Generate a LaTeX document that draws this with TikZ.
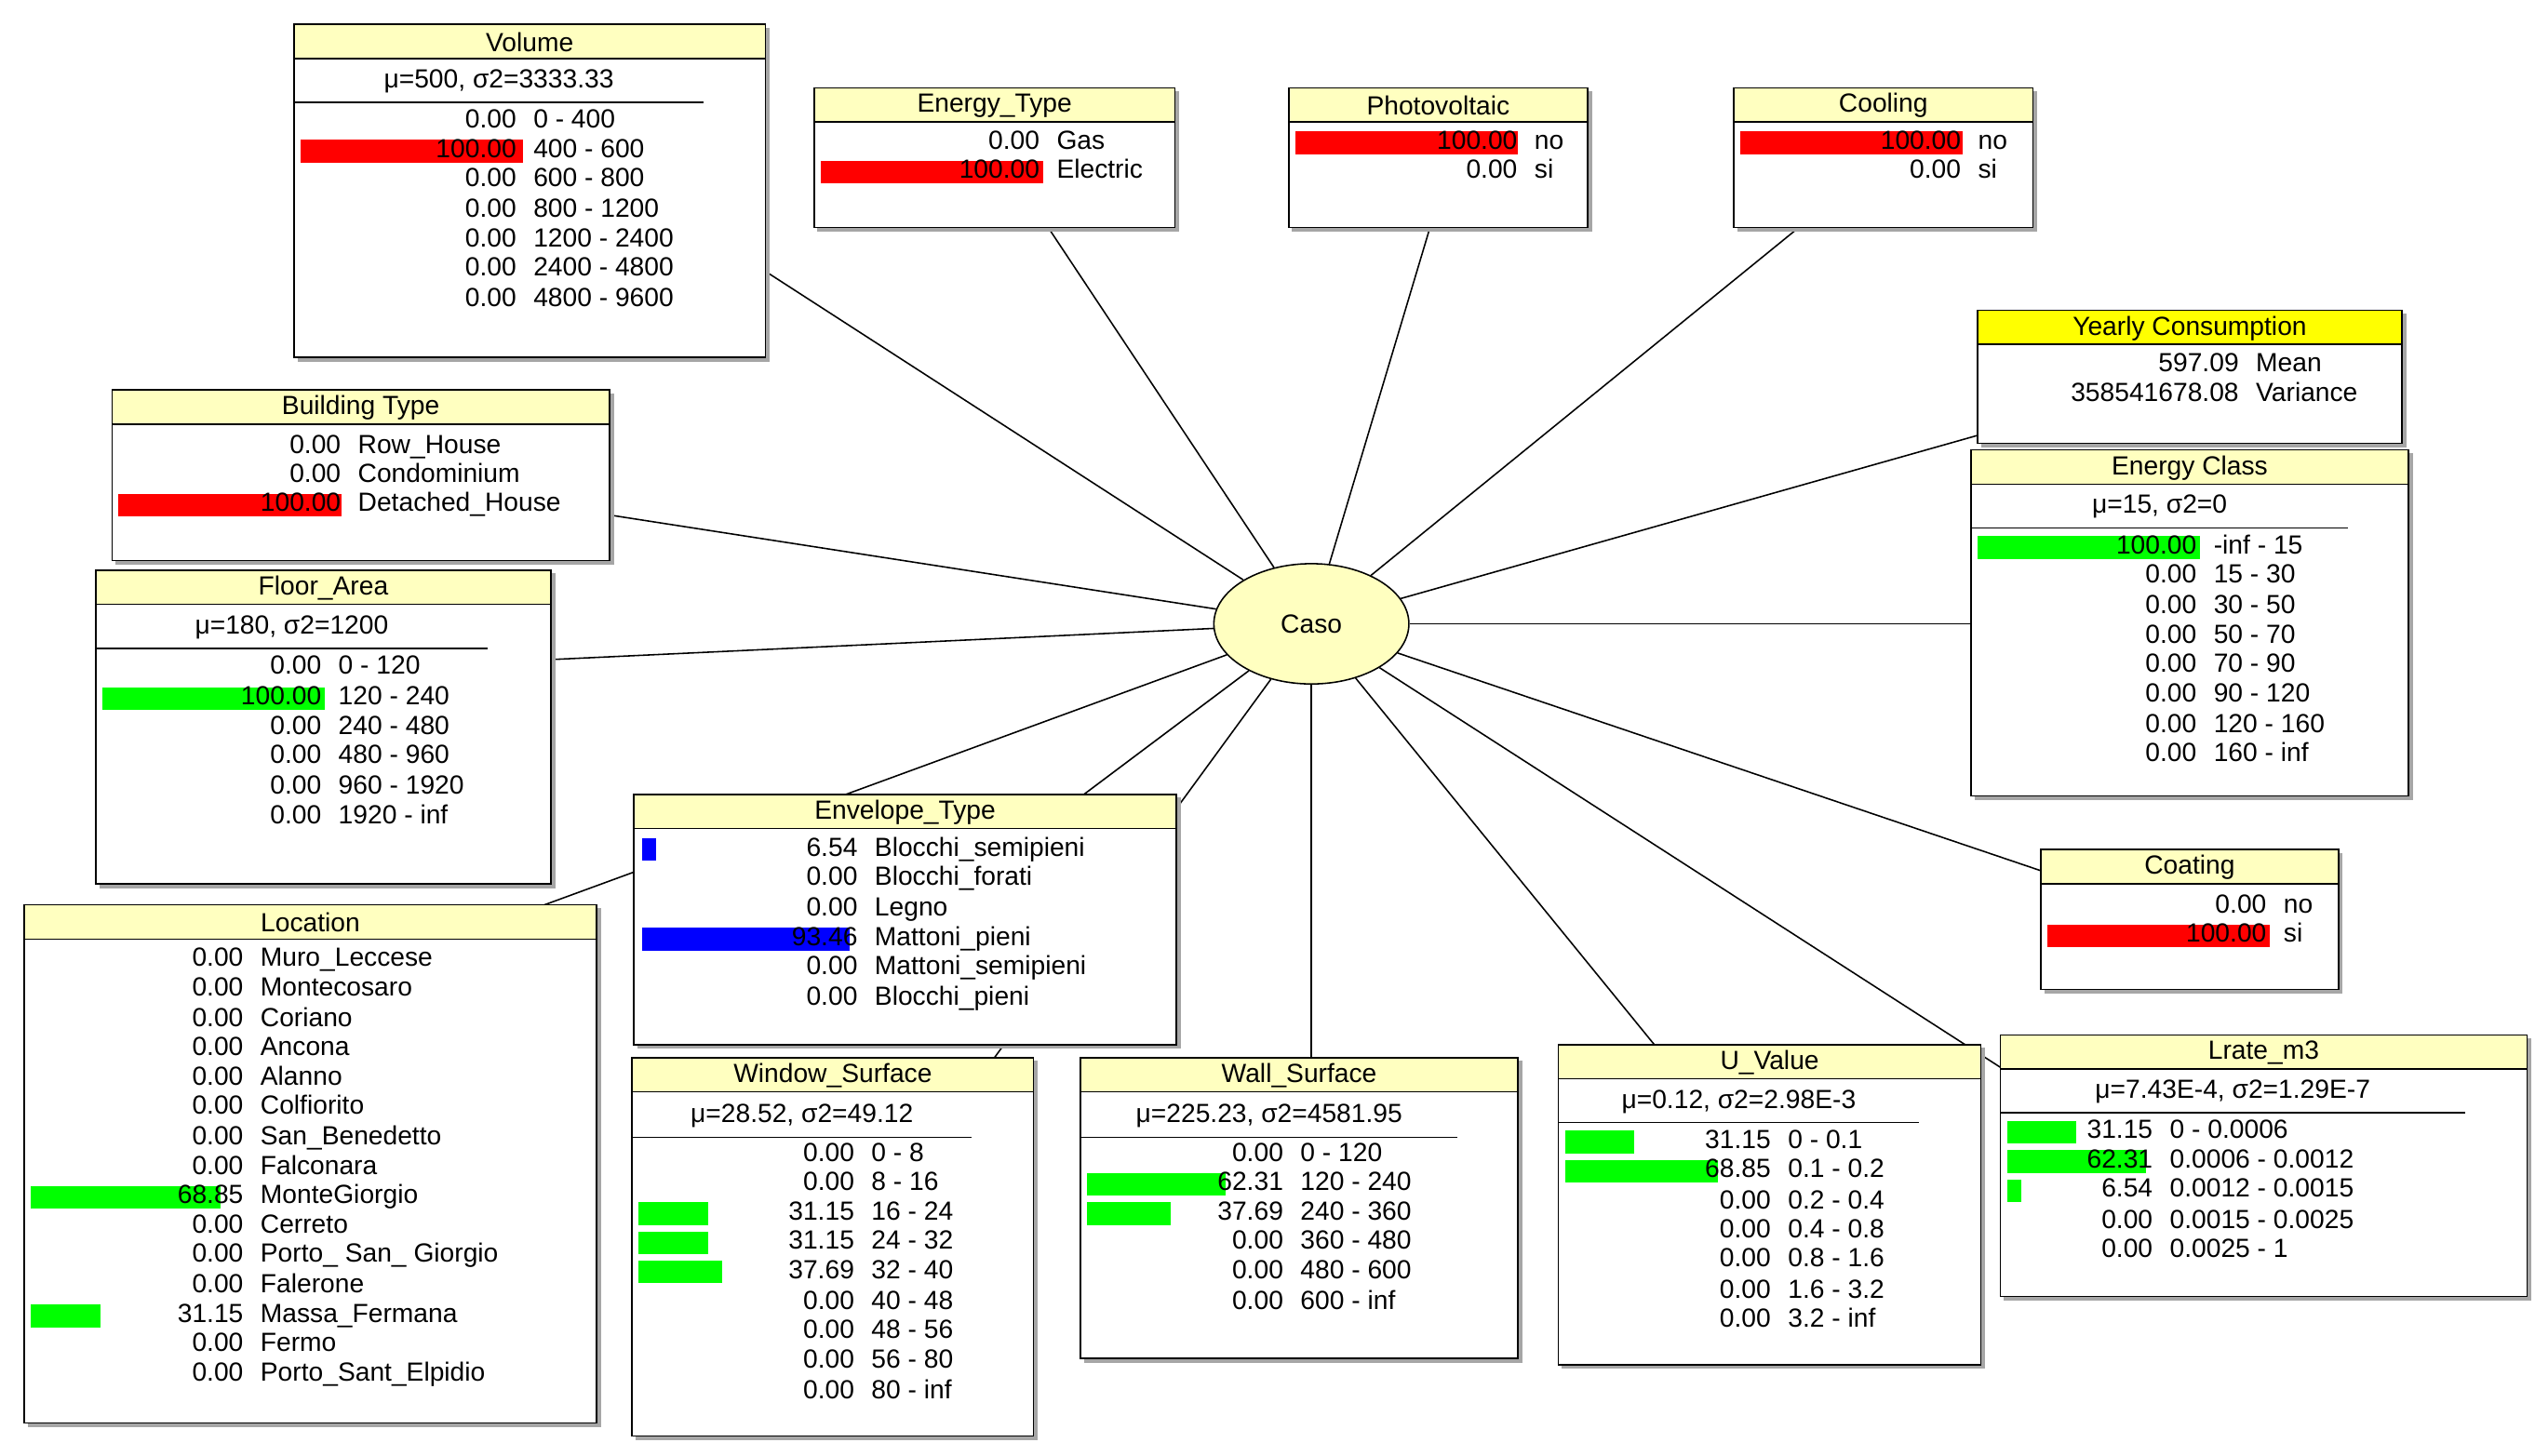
\documentclass[tikz,border=0pt]{standalone}
\usepackage{fontspec}
\setmainfont{Liberation Sans}
\usetikzlibrary{shapes.geometric}
\definecolor{hdr}{RGB}{255,255,192}
\definecolor{hdrY}{RGB}{255,255,0}
\definecolor{barR}{RGB}{255,0,0}
\definecolor{barG}{RGB}{0,255,0}
\definecolor{barB}{RGB}{0,0,255}
\tikzset{
  box/.style={draw=black, line width=0.6pt, fill=white},
  txt/.style={inner sep=0pt, font=\fontsize{10.8}{12}\selectfont},
  link/.style={draw=black, line width=0.6pt}
}
% panel: x1, y1, x2, y2, title, header colour
\newcommand\panel[6]{%
  \draw[gray!70, line width=1.6pt] ({#1+2},{#4+1.5}) -- ({#3+1.5},{#4+1.5}) -- ({#3+1.5},{#2+2});
  \draw[box] (#1,#2) rectangle (#3,#4);
  \draw[box, fill=#6] (#1,#2) rectangle (#3,{#2+21});
  \node[txt] at ({(#1+#3)/2},{#2+11}) {#5};}
% row: y, right edge of number, value, label
\newcommand\prow[4]{%
  \node[txt, anchor=mid east] at (#2,#1) {#3};
  \node[txt, anchor=mid west] at ({#2+10},#1) {#4};}
% bar: colour, left, y, value
\newcommand\pbar[4]{\fill[#1] (#2,{#3-7}) rectangle ({#2+#4*1.37},{#3+7});}
% statistics line: x1, x2, y, text
\newcommand\pstat[4]{%
  \node[txt] at ({(#1+#2)/2},#3) {#4};
  \draw[line width=0.6pt] (#1,{#3+13}) -- (#2,{#3+13});}
\begin{document}
\begin{tikzpicture}[x=0.0235cm, y=-0.0235cm]
  \useasboundingbox (0,0) rectangle (1560,896);

  % centre node and links
  \node[ellipse, draw, line width=0.6pt, fill=hdr, minimum width=2.82cm, minimum height=1.74cm, txt] (caso) at (807,384) {Caso};
  \coordinate (cvol) at (471,167);
  \coordinate (cene) at (645,140);
  \coordinate (cpho) at (880,140);
  \coordinate (ccoo) at (1107,140);
  \coordinate (cyea) at (1217,268);
  \coordinate (ccla) at (1213,384);
  \coordinate (ccoa) at (1256,536);
  \coordinate (clra) at (1231,657);
  \coordinate (cuva) at (1018,643);
  \coordinate (cwal) at (807,651);
  \coordinate (cwin) at (612,651);
  \coordinate (cenv) at (667,489);
  \coordinate (cloc) at (335,557);
  \coordinate (cbui) at (375,317);
  \coordinate (cflo) at (339,406);
  \foreach \c in {cvol,cene,cpho,ccoo,cyea,ccla,ccoa,clra,cuva,cwal,cwin,cenv,cloc,cbui,cflo}
    \draw[link] (caso) -- (\c);

  % Volume
  \panel{181}{15}{471}{220}{Volume}{hdr}
  \pstat{181}{433}{50}{μ=500, σ2=3333.33}
  \pbar{barR}{185}{93}{100}
  \prow{75}{318}{0.00}{0 - 400}
  \prow{93}{318}{100.00}{400 - 600}
  \prow{111}{318}{0.00}{600 - 800}
  \prow{130}{318}{0.00}{800 - 1200}
  \prow{148}{318}{0.00}{1200 - 2400}
  \prow{166}{318}{0.00}{2400 - 4800}
  \prow{185}{318}{0.00}{4800 - 9600}

  % Energy_Type
  \panel{501}{54}{723}{140}{Energy\_Type}{hdr}
  \pbar{barR}{505}{106}{100}
  \prow{88}{640}{0.00}{Gas}
  \prow{106}{640}{100.00}{Electric}

  % Photovoltaic
  \panel{793}{54}{977}{140}{Photovoltaic}{hdr}
  \pbar{barR}{797}{88}{100}
  \prow{88}{934}{100.00}{no}
  \prow{106}{934}{0.00}{si}

  % Cooling
  \panel{1067}{54}{1251}{140}{Cooling}{hdr}
  \pbar{barR}{1071}{88}{100}
  \prow{88}{1207}{100.00}{no}
  \prow{106}{1207}{0.00}{si}

  % Yearly Consumption
  \panel{1217}{191}{1478}{273}{Yearly Consumption}{hdrY}
  \prow{225}{1378}{597.09}{Mean}
  \prow{243}{1378}{358541678.08}{Variance}

  % Energy Class
  \panel{1213}{277}{1482}{490}{Energy Class}{hdr}
  \pstat{1213}{1445}{312}{μ=15, σ2=0}
  \pbar{barG}{1217}{337}{100}
  \prow{337}{1352}{100.00}{-inf - 15}
  \prow{355}{1352}{0.00}{15 - 30}
  \prow{374}{1352}{0.00}{30 - 50}
  \prow{392}{1352}{0.00}{50 - 70}
  \prow{410}{1352}{0.00}{70 - 90}
  \prow{428}{1352}{0.00}{90 - 120}
  \prow{447}{1352}{0.00}{120 - 160}
  \prow{465}{1352}{0.00}{160 - inf}

  % Building Type
  \panel{69}{240}{375}{345}{Building Type}{hdr}
  \pbar{barR}{73}{311}{100}
  \prow{275}{210}{0.00}{Row\_House}
  \prow{293}{210}{0.00}{Condominium}
  \prow{311}{210}{100.00}{Detached\_House}

  % Floor_Area
  \panel{59}{351}{339}{544}{Floor\_Area}{hdr}
  \pstat{59}{300}{386}{μ=180, σ2=1200}
  \pbar{barG}{63}{430}{100}
  \prow{411}{198}{0.00}{0 - 120}
  \prow{430}{198}{100.00}{120 - 240}
  \prow{448}{198}{0.00}{240 - 480}
  \prow{466}{198}{0.00}{480 - 960}
  \prow{485}{198}{0.00}{960 - 1920}
  \prow{503}{198}{0.00}{1920 - inf}

  % Coating
  \panel{1256}{523}{1439}{609}{Coating}{hdr}
  \pbar{barR}{1260}{576}{100}
  \prow{558}{1395}{0.00}{no}
  \prow{576}{1395}{100.00}{si}

  % Location
  \panel{15}{557}{367}{876}{Location}{hdr}
  \pbar{barG}{19}{737}{85}
  \pbar{barG}{19}{810}{31.15}
  \prow{591}{150}{0.00}{Muro\_Leccese}
  \prow{609}{150}{0.00}{Montecosaro}
  \prow{628}{150}{0.00}{Coriano}
  \prow{646}{150}{0.00}{Ancona}
  \prow{664}{150}{0.00}{Alanno}
  \prow{682}{150}{0.00}{Colfiorito}
  \prow{701}{150}{0.00}{San\_Benedetto}
  \prow{719}{150}{0.00}{Falconara}
  \prow{737}{150}{68.85}{MonteGiorgio}
  \prow{755}{150}{0.00}{Cerreto}
  \prow{773}{150}{0.00}{Porto\_ San\_ Giorgio}
  \prow{792}{150}{0.00}{Falerone}
  \prow{810}{150}{31.15}{Massa\_Fermana}
  \prow{828}{150}{0.00}{Fermo}
  \prow{846}{150}{0.00}{Porto\_Sant\_Elpidio}

  % Envelope_Type
  \panel{390}{489}{724}{643}{Envelope\_Type}{hdr}
  \pbar{barB}{395}{523}{6.54}
  \pbar{barB}{395}{578}{93.46}
  \prow{523}{528}{6.54}{Blocchi\_semipieni}
  \prow{541}{528}{0.00}{Blocchi\_forati}
  \prow{560}{528}{0.00}{Legno}
  \prow{578}{528}{93.46}{Mattoni\_pieni}
  \prow{596}{528}{0.00}{Mattoni\_semipieni}
  \prow{615}{528}{0.00}{Blocchi\_pieni}

  % Window_Surface
  \panel{389}{651}{636}{884}{Window\_Surface}{hdr}
  \pstat{389}{598}{687}{μ=28.52, σ2=49.12}
  \pbar{barG}{393}{747}{31.15}
  \pbar{barG}{393}{765}{31.15}
  \pbar{barG}{393}{783}{37.69}
  \prow{711}{526}{0.00}{0 - 8}
  \prow{729}{526}{0.00}{8 - 16}
  \prow{747}{526}{31.15}{16 - 24}
  \prow{765}{526}{31.15}{24 - 32}
  \prow{783}{526}{37.69}{32 - 40}
  \prow{802}{526}{0.00}{40 - 48}
  \prow{820}{526}{0.00}{48 - 56}
  \prow{838}{526}{0.00}{56 - 80}
  \prow{857}{526}{0.00}{80 - inf}

  % Wall_Surface
  \panel{665}{651}{934}{836}{Wall\_Surface}{hdr}
  \pstat{665}{897}{687}{μ=225.23, σ2=4581.95}
  \pbar{barG}{669}{729}{62.31}
  \pbar{barG}{669}{747}{37.69}
  \prow{711}{790}{0.00}{0 - 120}
  \prow{729}{790}{62.31}{120 - 240}
  \prow{747}{790}{37.69}{240 - 360}
  \prow{765}{790}{0.00}{360 - 480}
  \prow{783}{790}{0.00}{480 - 600}
  \prow{802}{790}{0.00}{600 - inf}

  % U_Value
  \panel{959}{643}{1219}{840}{U\_Value}{hdr}
  \pstat{959}{1181}{678}{μ=0.12, σ2=2.98E-3}
  \pbar{barG}{963}{703}{31.15}
  \pbar{barG}{963}{721}{68.85}
  \prow{703}{1090}{31.15}{0 - 0.1}
  \prow{721}{1090}{68.85}{0.1 - 0.2}
  \prow{740}{1090}{0.00}{0.2 - 0.4}
  \prow{758}{1090}{0.00}{0.4 - 0.8}
  \prow{776}{1090}{0.00}{0.8 - 1.6}
  \prow{795}{1090}{0.00}{1.6 - 3.2}
  \prow{813}{1090}{0.00}{3.2 - inf}

  % Lrate_m3
  \panel{1231}{637}{1555}{798}{Lrate\_m3}{hdr}
  \pstat{1231}{1517}{672}{μ=7.43E-4, σ2=1.29E-7}
  \pbar{barG}{1235}{697}{31.15}
  \pbar{barG}{1235}{715}{62.31}
  \pbar{barG}{1235}{733}{6.54}
  \prow{697}{1325}{31.15}{0 - 0.0006}
  \prow{715}{1325}{62.31}{0.0006 - 0.0012}
  \prow{733}{1325}{6.54}{0.0012 - 0.0015}
  \prow{752}{1325}{0.00}{0.0015 - 0.0025}
  \prow{770}{1325}{0.00}{0.0025 - 1}
\end{tikzpicture}
\end{document}
